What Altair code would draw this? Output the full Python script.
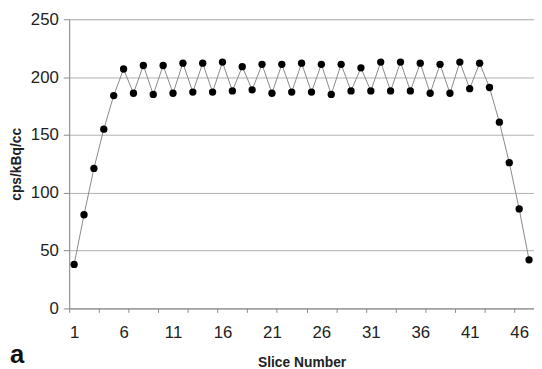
import altair as alt
import pandas as pd

slices = list(range(1, 48))
values = [38, 81, 121, 155, 184, 207, 186, 210, 185, 210,
          186, 212, 187, 212, 187, 213, 188, 209, 189, 211,
          186, 211, 187, 212, 187, 211, 185, 211, 188, 208,
          188, 213, 188, 213, 188, 212, 186, 211, 186, 213,
          190, 212, 191, 161, 126, 86, 42]
x_labels = [1, 6, 11, 16, 21, 26, 31, 36, 41, 46]
x_tickmarks = [0.5 + 3 * k for k in range(16)]
y_ticks = [0, 50, 100, 150, 200, 250]

df = pd.DataFrame({"slice": slices, "value": values})
FONT = "Liberation Sans"

x = alt.X("slice:Q", scale=alt.Scale(domain=[0.5, 47.5], nice=False, zero=False),
          axis=alt.Axis(values=sorted(set(x_labels) | set(x_tickmarks)),
                        labelExpr="datum.value % 5 == 1 ? datum.label : ''",
                        tickOpacity={"condition": {"test": "datum.value % 1 != 0", "value": 1}, "value": 0},
                        title="Slice Number", grid=False,
                        labelFontSize=17, labelFont=FONT, labelColor="#222",
                        titleFont=FONT, titleFontSize=14, titleFontWeight="bold",
                        titleColor="#222", titlePadding=16, labelPadding=12,
                        domainColor="#888", tickColor="#888", tickSize=4,
                        labelFlush=False, labelOverlap=False))
y = alt.Y("value:Q", scale=alt.Scale(domain=[0, 250], nice=False),
          axis=alt.Axis(values=y_ticks, title="cps/kBq/cc", grid=True,
                        gridColor="#b0b0b0", gridWidth=1,
                        labelFontSize=17, labelFont=FONT, labelColor="#222",
                        titleFont=FONT, titleFontSize=14, titleFontWeight="bold",
                        titleColor="#222", titlePadding=7, labelPadding=5,
                        domainColor="#888", tickColor="#888", tickSize=6))

line = alt.Chart(df).mark_line(color="#888888", strokeWidth=1).encode(x=x, y=y)
pts = alt.Chart(df).mark_circle(color="black", size=55, opacity=1).encode(x=x, y=y)
lab = alt.Chart(pd.DataFrame({"t": ["a"]})).mark_text(
    font=FONT, fontSize=26, fontWeight="bold", color="#111", align="left", baseline="alphabetic"
).encode(x=alt.value(-60), y=alt.value(348), text="t:N")

chart = alt.layer(line, pts, lab).properties(
    width=471, height=293,
    autosize=alt.AutoSizeParams(type="none"),
    padding={"left": 62, "top": 9, "right": 0, "bottom": 59},
).configure_view(stroke=None).configure(background="white")

chart.save("out.html", embed_options={"renderer": "svg", "actions": False})
